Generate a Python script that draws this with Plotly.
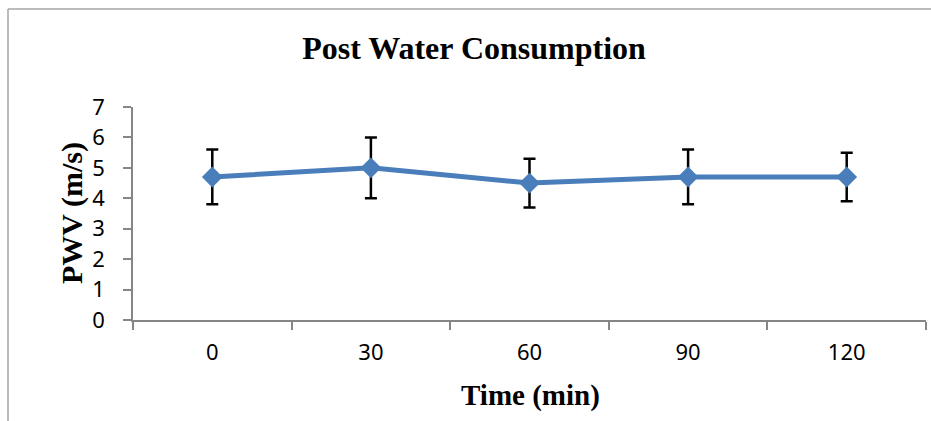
import plotly.graph_objects as go

time_labels = ["0", "30", "60", "90", "120"]
pwv_mean = [4.7, 5.0, 4.5, 4.7, 4.7]
pwv_err = [0.9, 1.0, 0.8, 0.9, 0.8]

W, H = 931, 421
L, R, T, B = 133, W - 926, 107, H - 320
pw, ph = W - L - R, H - T - B

def px_x(x):
    return (x - L) / pw

def px_y(y):
    return (H - B - y) / ph

fig = go.Figure()
fig.add_trace(go.Scatter(
    x=time_labels, y=pwv_mean,
    mode="lines+markers",
    line=dict(color="#4a7ebb", width=5),
    marker=dict(symbol="diamond", size=16, color="#4a7ebb"),
    error_y=dict(type="data", array=pwv_err, visible=True,
                 color="black", thickness=2.5, width=6),
    showlegend=False,
))

axis_col = "#868686"
border = dict(color="#a6a6a6", width=1.5)
fig.update_layout(
    width=W, height=H,
    margin=dict(l=L, r=R, t=T, b=B),
    paper_bgcolor="white", plot_bgcolor="white",
    title=dict(text="<b>Post Water Consumption</b>", xref="container", yref="container",
               x=474 / W, y=1 - 48 / H, xanchor="center", yanchor="middle",
               font=dict(family="Liberation Serif", size=32, color="black")),
    xaxis=dict(type="category", range=[-0.5, 4.5], tickson="boundaries",
               ticks="outside", ticklen=8,
               tickcolor=axis_col, tickwidth=1.5, showline=True, linecolor=axis_col,
               linewidth=1.5, showgrid=False, ticklabelstandoff=12,
               tickfont=dict(family="Noto Sans", size=22, color="black")),
    yaxis=dict(range=[0, 7], dtick=1, ticks="outside", ticklen=8,
               tickcolor=axis_col, tickwidth=1.5, showline=True, linecolor=axis_col,
               linewidth=1.5, showgrid=False, zeroline=False, ticklabelstandoff=14,
               tickfont=dict(family="Noto Sans", size=22, color="black")),
    annotations=[
        dict(text="<b>PWV (m/s)</b>", xref="paper", yref="paper",
             x=px_x(72), y=px_y(213), textangle=-90, showarrow=False,
             xanchor="center", yanchor="middle",
             font=dict(family="Liberation Serif", size=30, color="black")),
        dict(text="<b>Time (min)</b>", xref="paper", yref="paper",
             x=px_x(530), y=px_y(395), showarrow=False,
             xanchor="center", yanchor="middle",
             font=dict(family="Liberation Serif", size=29, color="black")),
    ],
    shapes=[
        dict(type="line", xref="paper", yref="paper",
             x0=px_x(8), x1=px_x(W), y0=px_y(9), y1=px_y(9), line=border, layer="below"),
        dict(type="line", xref="paper", yref="paper",
             x0=px_x(8), x1=px_x(8), y0=px_y(9), y1=px_y(H), line=border, layer="below"),
    ],
)

fig.write_html("out.html", config={"displayModeBar": False},
               post_script="document.body.style.margin='0';")
